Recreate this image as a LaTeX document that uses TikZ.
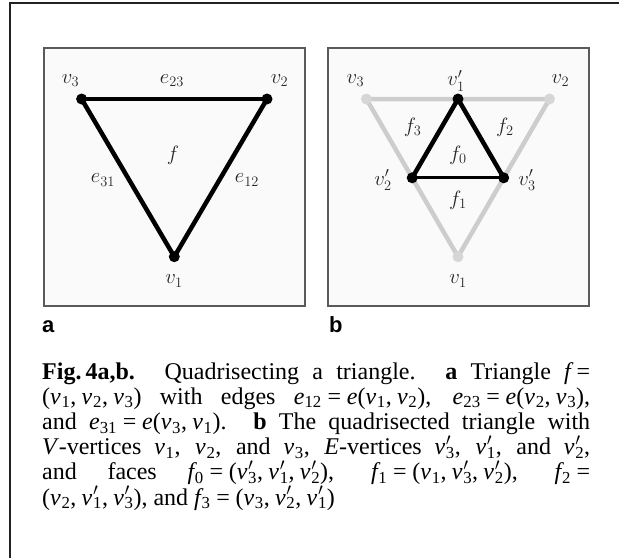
\documentclass[tikz,border=0pt]{standalone}
\usepackage{fontspec}
\newfontfamily\capfont{Liberation Serif}
\newfontfamily\labfont{Liberation Sans}
\definecolor{panelfill}{HTML}{FAFAFA}
\definecolor{panelline}{HTML}{5A5A5A}
\definecolor{lightedge}{HTML}{CDCDCD}
\definecolor{lightdot}{HTML}{D6D6D6}
\definecolor{framec}{HTML}{222222}
\newcommand\cV[1]{{\itshape v}\kern0.03em\textsubscript{#1}}
\newcommand\cVp[1]{{\itshape v}\kern0.03em\rlap{$^{\prime}$}\textsubscript{#1}}
\newcommand\cE[1]{{\itshape e}\textsubscript{#1}}
\newcommand\cF[1]{{\itshape f}\kern0.03em\textsubscript{#1}}
\newcommand\eq{\nobreak\hspace{0.24em}=\hspace{0.24em}}
\newcommand\cm{,\hspace{0.22em}}
\begin{document}
\begin{tikzpicture}[x=1pt,y=-1pt,
  panel/.style={draw=panelline,line width=1.5pt,fill=panelfill},
  edgeb/.style={line width=4.5pt,line cap=round,line join=round,black},
  edgebh/.style={line width=3.2pt,line cap=round,black},
  edgeg/.style={line width=4.5pt,line cap=round,line join=round,lightedge},
  dotb/.style={circle,fill=black,minimum size=11pt,inner sep=0pt},
  dotg/.style={circle,fill=lightdot,minimum size=11pt,inner sep=0pt},
  lab/.style={font=\fontsize{21.5}{25}\selectfont,text=black!85,inner sep=0pt},
  plab/.style={font=\labfont\bfseries\fontsize{22}{26}\selectfont,inner sep=0pt,anchor=base west},
  captext/.style={font=\capfont\fontsize{24}{25.2}\selectfont,text width=548pt,align=justify,inner sep=0pt,anchor=base west}]
\useasboundingbox (0,0) rectangle (619,558);
% frame
\draw[framec,line width=2pt] (10,558) -- (10,3) -- (619,3);
% panels
\node[panel,minimum width=261pt,minimum height=258pt,anchor=north west] (pa) at (43,47) {};
\node[panel,minimum width=261pt,minimum height=258pt,anchor=north west] (pb) at (327,47) {};
% panel a
\coordinate (a1) at (174.3,256.7);
\coordinate (a2) at (267,99);
\coordinate (a3) at (81.6,99);
\draw[edgebh] (a3) -- (a2);
\draw[edgeb] (a2) -- (a1) -- (a3);
\node[dotb] (A1) at (a1) {};
\node[dotb] (A2) at (a2) {};
\node[dotb] (A3) at (a3) {};
\node[lab] (la3) at (70.6,80.7) {$v_3$};
\node[lab] (le23) at (172,80.7) {$e_{23}$};
\node[lab] (la2) at (279.6,80.7) {$v_2$};
\node[lab] (lf) at (173,155) {$f$};
\node[lab] (le31) at (103,180) {$e_{31}$};
\node[lab] (le12) at (247,180) {$e_{12}$};
\node[lab] (la1) at (174,281) {$v_1$};
\node[plab] (ta) at (42,332) {a};
% panel b
\coordinate (b1) at (458,256.7);
\coordinate (b2) at (549.5,99);
\coordinate (b3) at (366.4,99);
\coordinate (m1) at (458,99);
\coordinate (m2) at (412.2,177.8);
\coordinate (m3) at (503.7,177.8);
\draw[edgeg] (b1) -- (b2) -- (b3) -- cycle;
\node[dotg] (B1) at (b1) {};
\node[dotg] (B2) at (b2) {};
\node[dotg] (B3) at (b3) {};
\draw[edgebh] (m2) -- (m3);
\draw[edgeb] (m3) -- (m1) -- (m2);
\node[dotb] (M1) at (m1) {};
\node[dotb] (M2) at (m2) {};
\node[dotb] (M3) at (m3) {};
\node[lab] (lb3) at (355.4,80.7) {$v_3$};
\node[lab] (lm1) at (456,80.7) {$v'_1$};
\node[lab] (lb2) at (560.4,80.7) {$v_2$};
\node[lab] (lf3) at (412.6,127) {$f_3$};
\node[lab] (lf2) at (505,127) {$f_2$};
\node[lab] (lf0) at (458,155) {$f_0$};
\node[lab] (lm2) at (383,180) {$v'_2$};
\node[lab] (lm3) at (527,180) {$v'_3$};
\node[lab] (lf1) at (458,200) {$f_1$};
\node[lab] (lb1) at (458,281) {$v_1$};
\node[plab] (tb) at (329,332) {b};
% caption
\node[captext] (caption) at (42,379) {\textbf{Fig.\,4a,b.} Quadrisecting a triangle. \textbf{a} Triangle {\itshape f}\eq\linebreak
(\cV1\cm\cV2\cm\cV3) with edges \cE{12}\eq{\itshape e}(\cV1\cm\cV2), \cE{23}\eq{\itshape e}(\cV2\cm\cV3),\linebreak
and \cE{31}\eq{\itshape e}(\cV3\cm\cV1). \textbf{b} The quadrisected triangle with\linebreak
{\itshape V}\kern0.08em-vertices \cV1, \cV2, and \cV3, {\itshape E}-vertices \cVp3, \cVp1, and \cVp2,\linebreak
and faces \cF0\eq(\cVp3\cm\cVp1\cm\cVp2), \cF1\eq(\cV1\cm\cVp3\cm\cVp2), \cF2\eq\linebreak
(\cV2\cm\cVp1\cm\cVp3), and \cF3\eq(\cV3\cm\cVp2\cm\cVp1)};
\end{tikzpicture}
\end{document}
